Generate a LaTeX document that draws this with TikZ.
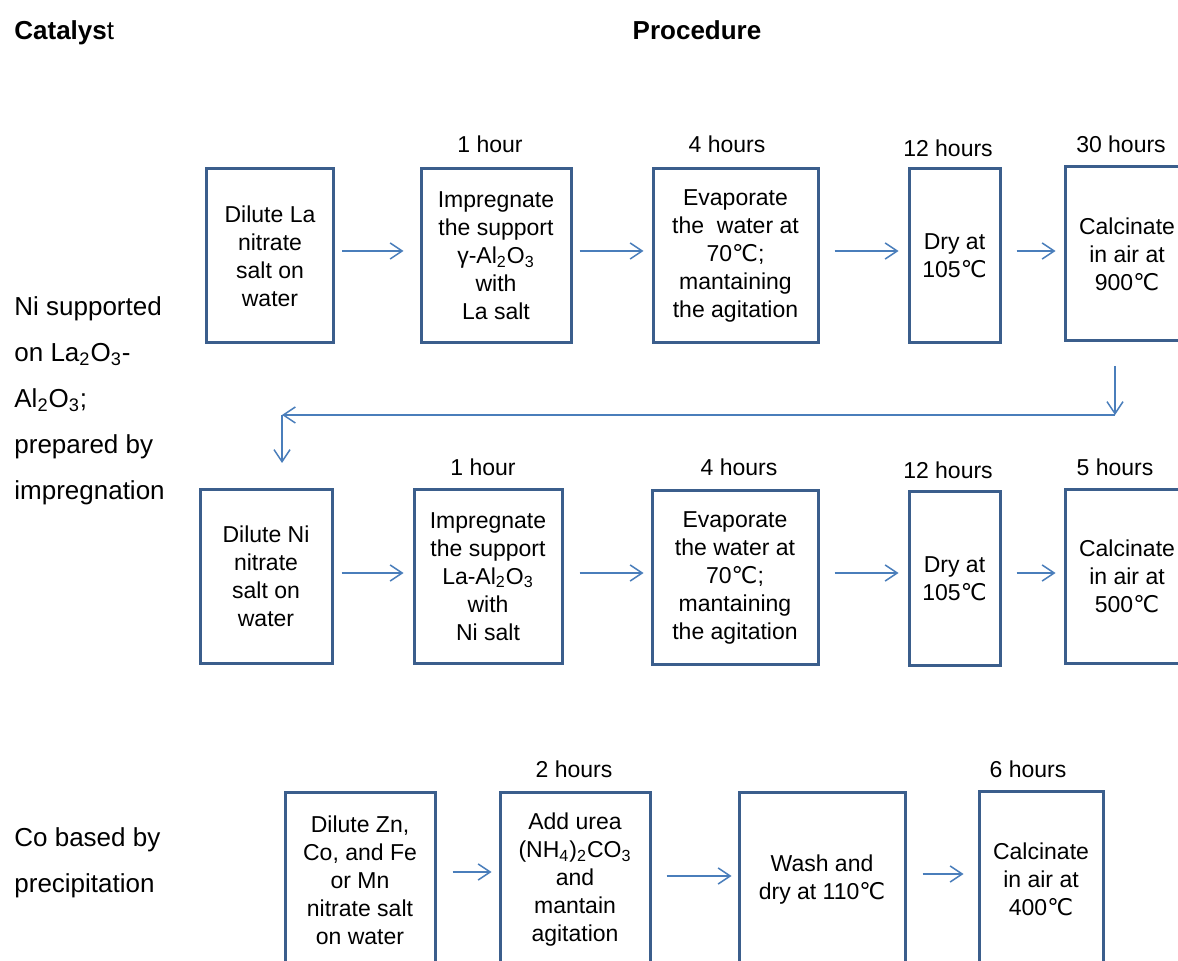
\documentclass[tikz,border=0pt]{standalone}
\usepackage{fontspec}
\setmainfont{Liberation Sans}
\newfontfamily\symfont{DejaVu Sans}
\usetikzlibrary{arrows.meta}
\definecolor{boxblue}{HTML}{3B5E8C}
\definecolor{arrowblue}{HTML}{4A7EBB}
\newcommand{\degC}{{\symfont ℃}}

\begin{document}
\begin{tikzpicture}[x=0.5pt,y=-0.5pt,
	stepbox/.style={draw=boxblue,line width=1.5pt,inner sep=0,align=center,minimum height=87pt,font=\fontsize{11.5}{14}\selectfont},
	time/.style={anchor=base,inner sep=0,font=\fontsize{11.5}{14}\selectfont},
	head/.style={anchor=base,inner sep=0,font=\fontsize{13}{16}\selectfont\bfseries},
	side/.style={anchor=north west,inner sep=0,align=left,font=\fontsize{13}{23}\selectfont},
	flow/.style={draw=arrowblue,line width=0.75pt,-{Straight Barb[length=6pt,width=8pt]}}]
	\useasboundingbox (0,0) rectangle (1178,961);
	\clip (0,0) rectangle (1178,961);
	% headings and catalysts
	\node[head,anchor=base west] (cat) at (14,40) {Catalys\mdseries t};
	\node[head] (proc) at (697,40) {Procedure};
	\node[side] (ni) at (14,296) {Ni supported\\on La\textsubscript{2}O\textsubscript{3}-\\Al\textsubscript{2}O\textsubscript{3};\\prepared by\\impregnation};
	\node[side] (co) at (14,827) {Co based by\\precipitation};
	% La impregnation
	\node[stepbox,minimum width=63.5pt] (1) at (270,256) {Dilute La\\nitrate\\salt on\\water};
	\node[stepbox,minimum width=75pt] (2) at (496,256) {Impregnate\\the support\\γ-Al\textsubscript{2}O\textsubscript{3}\\with\\La salt};
	\node[stepbox,minimum width=82.5pt] (3) at (735.5,256) {Evaporate\\the\ \ water at\\70\degC;\\mantaining\\the agitation};
	\node[stepbox,minimum width=45.5pt] (4) at (954.5,256) {Dry at\\105\degC};
	\node[stepbox,minimum width=62pt] (5) at (1127,254) {Calcinate\\in air at\\900\degC};
	\node[time] (t2) at (490,153) {1 hour};
	\node[time] (t3) at (727,153) {4 hours};
	\node[time] (t4) at (948,157) {12 hours};
	\node[time] (t5) at (1121,153) {30 hours};
	\draw[flow,shorten <=3.5pt,shorten >=8pt] ([yshift=2.5pt]1.east) -- ([yshift=2.5pt]2.west);
	\draw[flow,shorten <=3.5pt,shorten >=4pt] ([yshift=2.5pt]2.east) -- ([yshift=2.5pt]3.west);
	\draw[flow,shorten <=7.5pt,shorten >=4.5pt] ([yshift=2.5pt]3.east) -- ([yshift=2.5pt]4.west);
	\draw[flow,shorten <=7.5pt,shorten >=4pt] ([yshift=2.5pt]4.east) -- ([yshift=1.5pt]5.west);
	% back to the second row
	\coordinate (top) at (1115,366);
	\coordinate (right) at (1115,415);
	\coordinate (left) at (282,415);
	\draw[flow] (top) -- (right);
	\draw[flow] (right) -- (left);
	% Ni impregnation
	\node[stepbox,minimum width=66pt] (6) at (266,576.5) {Dilute Ni\\nitrate\\salt on\\water};
	\node[stepbox,minimum width=74pt] (7) at (488,576.5) {Impregnate\\the support\\La-Al\textsubscript{2}O\textsubscript{3}\\with\\Ni salt};
	\node[stepbox,minimum width=83pt] (8) at (735,577.5) {Evaporate\\the water at\\70\degC;\\mantaining\\the agitation};
	\node[stepbox,minimum width=45.5pt] (9) at (954.5,579) {Dry at\\105\degC};
	\node[stepbox,minimum width=62pt] (10) at (1127,576.5) {Calcinate\\in air at\\500\degC};
	\node[time] (t7) at (483,476) {1 hour};
	\node[time] (t8) at (739,476) {4 hours};
	\node[time] (t9) at (948,479) {12 hours};
	\node[time] (t10) at (1115,476) {5 hours};
	\draw[flow,shorten >=12.5pt] (left) -- (left |- 6.north);
	\draw[flow,shorten <=4pt,shorten >=4.5pt] ([yshift=1.75pt]6.east) -- ([yshift=1.75pt]7.west);
	\draw[flow,shorten <=8pt,shorten >=3.5pt] ([yshift=1.75pt]7.east) -- ([yshift=2.25pt]8.west);
	\draw[flow,shorten <=7.5pt,shorten >=4.5pt] ([yshift=2.25pt]8.east) -- ([yshift=3pt]9.west);
	\draw[flow,shorten <=7.5pt,shorten >=4pt] ([yshift=3pt]9.east) -- ([yshift=1.75pt]10.west);
	% Co precipitation
	\node[stepbox,minimum width=75pt] (11) at (360,880) {Dilute Zn,\\Co, and Fe\\or Mn\\nitrate salt\\on water};
	\node[stepbox,minimum width=75pt] (12) at (575,880) {Add urea\\(NH\textsubscript{4})\textsubscript{2}CO\textsubscript{3}\\and\\mantain\\agitation};
	\node[stepbox,minimum width=83pt] (13) at (822,880) {Wash and\\dry at 110\degC};
	\node[stepbox,minimum width=62pt] (14) at (1041,879) {Calcinate\\in air at\\400\degC};
	\node[time] (t12) at (574,778) {2 hours};
	\node[time] (t14) at (1028,778) {6 hours};
	\draw[flow,shorten <=8pt,shorten >=3.5pt] ([yshift=4pt]11.east) -- ([yshift=4pt]12.west);
	\draw[flow,shorten <=7.5pt,shorten >=3pt] ([yshift=2pt]12.east) -- ([yshift=2pt]13.west);
	\draw[flow,shorten <=8pt,shorten >=7pt] ([yshift=3pt]13.east) -- ([yshift=2.5pt]14.west);
\end{tikzpicture}
\end{document}
